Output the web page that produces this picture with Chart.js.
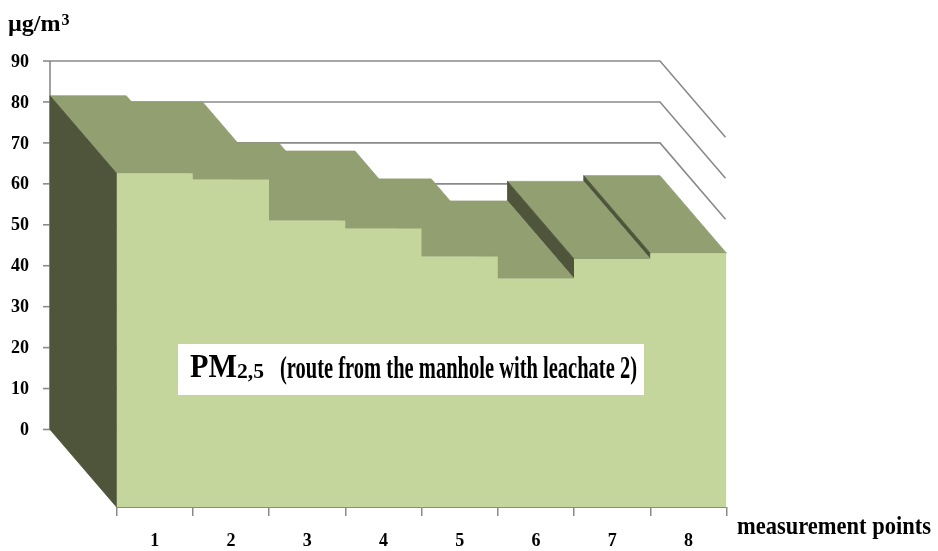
<!DOCTYPE html>
<html>
<head>
<meta charset="utf-8">
<script src="https://cdn.jsdelivr.net/npm/chart.js@4.4.1/dist/chart.umd.min.js"></script>
<style>
  html, body { margin: 0; padding: 0; background: #ffffff; }
  #wrap { width: 938px; height: 551px; position: relative; }
</style>
</head>
<body>
<div id="wrap"><canvas id="c" width="938" height="551"></canvas></div>
<script>
// Measurement points along the route and the PM2,5 concentration at each (µg/m³)
const categories = ['1', '2', '3', '4', '5', '6', '7', '8'];
const pm25 = [81.5, 80.0, 70.0, 68.0, 61.2, 55.8, 60.6, 62.0];
const yTicks = [0, 10, 20, 30, 40, 50, 60, 70, 80, 90];

const unitText = 'µg/m';
const unitSup = '3';
const xTitle = 'measurement points';
const seriesMain = 'PM';
const seriesSub = '2,5';
const seriesNote = '(route from the manhole with leachate 2)';

// 3-D look: how far the back wall sits behind the front plane, in pixels
const DX = 66.5, DY = 77.5;
const COLORS = {
  front: '#c4d69b',
  top: '#919f71',
  side: '#4f553b',
  grid: '#8a8a8a',
  text: '#000000'
};
const SERIF = '"Liberation Serif", "Times New Roman", serif';

// front face: one flat step per measurement point, spanning its whole band
const frontPoints = pm25.map((v, i) => ({ x: i + 0.5, y: v }))
  .concat([{ x: pm25.length + 0.5, y: pm25[pm25.length - 1] }]);

function poly(ctx, pts, color) {
  ctx.beginPath();
  ctx.moveTo(pts[0][0], pts[0][1]);
  for (let k = 1; k < pts.length; k++) ctx.lineTo(pts[k][0], pts[k][1]);
  ctx.closePath();
  ctx.fillStyle = color;
  ctx.strokeStyle = color;
  ctx.lineWidth = 0.8;
  ctx.fill();
  ctx.stroke();
}

// draw bold serif text squeezed/stretched horizontally to a given width
function fitText(ctx, text, x, y, size, width) {
  ctx.font = 'bold ' + size + 'px ' + SERIF;
  const w = ctx.measureText(text).width;
  ctx.save();
  ctx.translate(x, y);
  ctx.scale(width / w, 1);
  ctx.fillText(text, 0, 0);
  ctx.restore();
}

const area3d = {
  id: 'area3d',
  beforeDatasetsDraw(chart) {
    const ctx = chart.ctx;
    const xs = chart.scales.xe, ys = chart.scales.y;
    const n = pm25.length;
    const xl = xs.getPixelForValue(0.5);
    const xr = xs.getPixelForValue(n + 0.5);
    const y0 = ys.getPixelForValue(0);
    const last = pm25[n - 1];

    ctx.save();
    // back wall gridlines, running round onto the right-hand side wall
    ctx.strokeStyle = COLORS.grid;
    ctx.lineWidth = 1.6;
    yTicks.forEach(v => {
      const yb = ys.getPixelForValue(v) - DY;
      ctx.beginPath();
      ctx.moveTo(xl - DX, yb);
      ctx.lineTo(xr - DX, yb);
      // the side-wall part is hidden by the series below its last value
      if (v > last) ctx.lineTo(xr - 1, yb + DY * (DX - 1) / DX);
      ctx.stroke();
      ctx.beginPath();
      ctx.moveTo(xl - DX - 7, yb);
      ctx.lineTo(xl - DX, yb);
      ctx.stroke();
    });
    ctx.beginPath();
    ctx.moveTo(xl - DX, ys.getPixelForValue(yTicks[0]) - DY);
    ctx.lineTo(xl - DX, ys.getPixelForValue(yTicks[yTicks.length - 1]) - DY);
    ctx.stroke();

    // value axis labels on the back wall
    ctx.fillStyle = COLORS.text;
    ctx.font = 'bold 18px ' + SERIF;
    ctx.textAlign = 'right';
    ctx.textBaseline = 'middle';
    yTicks.forEach(v => {
      ctx.fillText(String(v), xl - DX - 21, ys.getPixelForValue(v) - DY + 1);
    });

    // top and left faces, painted from the far right towards the viewer
    for (let i = n - 1; i >= 0; i--) {
      const l = xs.getPixelForValue(i + 0.5);
      const r = xs.getPixelForValue(i + 1.5);
      const t = ys.getPixelForValue(pm25[i]);
      poly(ctx, [[l, t], [r, t], [r - DX, t - DY], [l - DX, t - DY]], COLORS.top);
      let b = null;
      if (i === 0) b = y0;
      else if (pm25[i] > pm25[i - 1]) b = ys.getPixelForValue(pm25[i - 1]);
      if (b !== null) {
        poly(ctx, [[l, t], [l, b], [l - DX, b - DY], [l - DX, t - DY]], COLORS.side);
      }
    }
    ctx.restore();
  },
  afterDatasetsDraw(chart) {
    const ctx = chart.ctx;
    ctx.save();
    ctx.fillStyle = COLORS.text;
    ctx.textAlign = 'left';
    ctx.textBaseline = 'alphabetic';

    // unit of the value axis
    ctx.font = 'bold 24px ' + SERIF;
    ctx.fillText(unitText, 8, 31);
    const uw = ctx.measureText(unitText).width;
    ctx.font = 'bold 16px ' + SERIF;
    ctx.fillText(unitSup, 8 + uw + 1, 25);

    // category axis title
    fitText(ctx, xTitle, 737, 533.5, 25, 194);

    // series caption box
    ctx.fillStyle = '#ffffff';
    ctx.fillRect(178, 344, 466, 51);
    ctx.fillStyle = COLORS.text;
    fitText(ctx, seriesMain, 190, 377, 33, 47);
    fitText(ctx, seriesSub, 237, 377.5, 21, 27);
    fitText(ctx, seriesNote, 280, 377.5, 32, 357);
    ctx.restore();
  }
};

new Chart(document.getElementById('c'), {
  type: 'line',
  data: {
    labels: categories,
    datasets: [{
      label: 'PM2,5',
      data: frontPoints,
      xAxisID: 'xe',
      yAxisID: 'y',
      stepped: true,
      fill: 'origin',
      backgroundColor: COLORS.front,
      borderColor: COLORS.front,
      borderWidth: 0,
      pointRadius: 0,
      tension: 0
    }]
  },
  options: {
    responsive: false,
    animation: false,
    devicePixelRatio: 1,
    layout: { padding: { left: 116.5, right: 211.5, top: 138.5, bottom: 0 } },
    plugins: {
      legend: { display: false },
      tooltip: { enabled: false }
    },
    scales: {
      x: {
        type: 'category',
        position: 'bottom',
        offset: true,
        grid: {
          offset: true,
          drawOnChartArea: false,
          drawTicks: true,
          tickLength: 9,
          color: COLORS.grid,
          lineWidth: 1.5
        },
        border: { display: true, color: COLORS.grid, width: 1 },
        ticks: {
          color: COLORS.text,
          font: { family: SERIF, size: 18, weight: 'bold' },
          padding: 15,
          maxRotation: 0,
          autoSkip: false
        },
        afterFit(scale) { scale.height = 44; }
      },
      xe: { type: 'linear', display: false, min: 0.5, max: pm25.length + 0.5 },
      y: { type: 'linear', display: false, min: 0, max: 90 }
    }
  },
  plugins: [area3d]
});
</script>
</body>
</html>
